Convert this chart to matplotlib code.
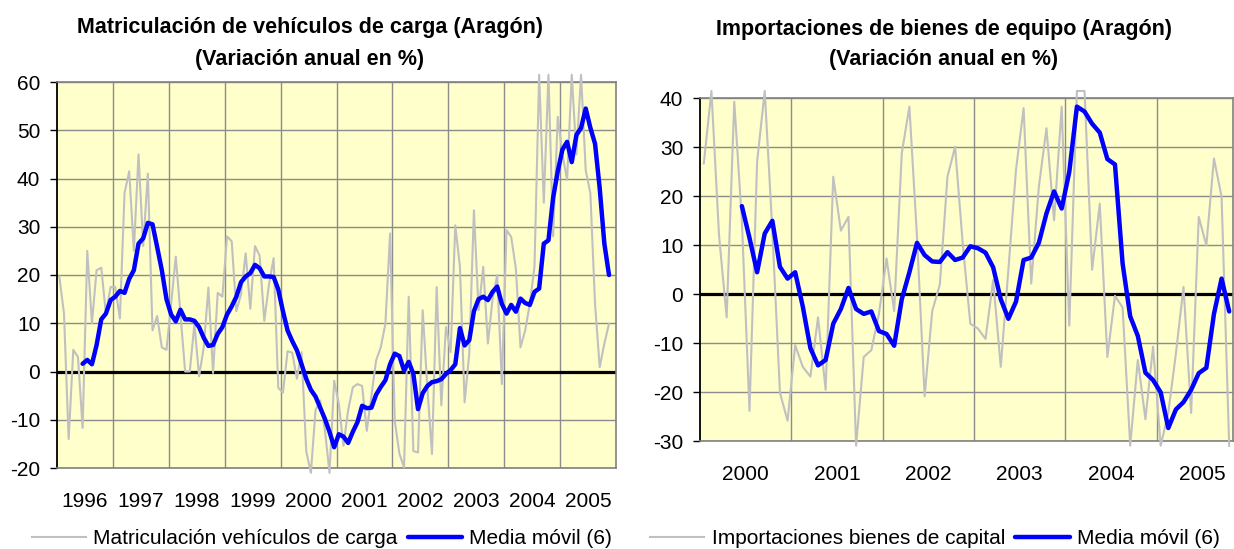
import numpy as np
import matplotlib.pyplot as plt

plt.rcParams['font.family'] = ['Liberation Sans', 'DejaVu Sans']
plt.rcParams['axes.unicode_minus'] = False

# Matriculación vehículos de carga, variación anual mensual (%)
carga_years = ['1996', '1997', '1998', '1999', '2000', '2001', '2002', '2003', '2004', '2005']
carga = [19.7, 12, -14, 4.5, 3.0, -11.7, 25.0, 10, 21, 21.5,
         12, 17.5, 17.5, 11, 37, 41.5, 25, 45, 26, 41,
         8.5, 11.5, 5, 4.5, 14, 23.8, 12, 0, 0, 9.8,
         -1, 5, 17.4, -0.3, 16.3, 15.5, 28, 27, 12.5, 16,
         24.5, 13, 26, 24, 10.5, 18, 23.5, -3.4, -4.4, 4.2,
         3.9, -1.5, 4, -16.5, -21, -8, -6, -12, -21, -1.9,
         -6.7, -15.4, -8, -3.3, -2.6, -3, -12.3, -5, 2.3, 5,
         9.9, 28.6, -10.2, -17, -19.9, 15.5, -16.5, -16.8, 12.7, -3.3,
         -17.1, 17.5, -7, 9.2, 4, 30.3, 21.7, -6.4, 3.7, 33.4,
         12.7, 21.7, 5.8, 15, 20, -2.6, 29.3, 27.9, 21.4, 5,
         8.5, 14, 21.7, 61.5, 35, 61.5, 28, 52.8, 45, 39.7,
         61.5, 45, 61.5, 41.7, 36.9, 14, 0.9, 5.8, 9.9]
# media movil (6), starts at the 6th month
carga_mm = [1.6, 2.4, 1.5, 5.5, 10.8, 12.0, 14.8, 15.5, 16.7, 16.3,
            19.2, 21.0, 26.5, 27.6, 30.8, 30.5, 25.8, 21.0, 15.0, 11.8,
            10.4, 12.8, 10.8, 10.8, 10.5, 9.2, 7.0, 5.3, 5.5, 7.8,
            9.2, 11.8, 13.5, 15.5, 18.5, 19.7, 20.4, 22.1, 21.4, 19.7,
            19.7, 19.6, 17.0, 12.5, 8.5, 6.3, 4.4, 1.5, -1.5, -3.8,
            -5.2, -7.5, -9.8, -12.5, -15.7, -13.0, -13.5, -14.8, -12.5, -10.5,
            -7.1, -7.6, -7.5, -4.8, -3.2, -1.8, 1.5, 3.7, 3.2, 0.2,
            2.0, -0.5, -7.8, -4.5, -3.0, -2.2, -2.0, -1.6, -0.5, 0.3,
            1.5, 9.0, 5.4, 6.5, 12.5, 15.0, 15.5, 14.8, 16.5, 17.6,
            14.0, 12.0, 13.8, 12.4, 15.1, 14.2, 13.8, 16.5, 17.2, 26.5,
            27.2, 36.0, 41.5, 46.0, 47.6, 43.4, 49.0, 50.5, 54.5, 50.5,
            47.2, 38.0, 26.5, 20.0]

# Importaciones bienes de capital
equipo_years = ['2000', '2001', '2002', '2003', '2004', '2005']
equipo = [26.7, 41.5, 12, -4.7, 39.3, 15, -23.8, 27, 41.5, 13,
          -20.1, -25.8, -10.4, -14.8, -16.8, -4.7, -19.5, 24, 13, 15.8,
          -30.9, -12.8, -11.4, -4, 7.3, -3.4, 28.8, 38.3, 11.7, -20.8,
          -3.4, 2, 24, 30.1, 10.4, -6, -7, -9.1, 2.9, -14.8,
          5, 25.4, 38, 2.2, 21.9, 33.9, 15.1, 38.3, -6.4, 41.5,
          41.5, 5, 18.5, -12.8, -0.3, -2.7, -30.9, -13.4, -25.5, -10.7,
          -30.9, -24.2, -12.1, 1.5, -24.2, 15.8, 10, 27.7, 19.9, -30.9]
equipo_mm = [18.0, 11.5, 4.5, 12.4, 15.0, 5.6, 3.2, 4.5, -2.5, -11.0,
             -14.5, -13.4, -6.0, -3.0, 1.3, -3.0, -4.0, -3.5, -7.5, -8.1,
             -10.5, -1.0, 4.5, 10.5, 8.0, 6.7, 6.6, 8.6, 7.0, 7.5,
             9.8, 9.4, 8.5, 5.5, -1.0, -5.0, -1.5, 7.0, 7.5, 10.5,
             16.5, 21.0, 17.5, 25.0, 38.3, 37.3, 34.8, 33.0, 27.6, 26.5,
             6.3, -4.5, -8.5, -16.0, -17.5, -20.0, -27.3, -23.5, -22.0, -19.5,
             -16.1, -15.0, -4.0, 3.2, -3.5]

W, H = 1234, 549
FS = 15


def draw_panel(ax, serie, media, years, n_cats, ylim, xpad):
    x = np.arange(len(serie)) + 0.5
    xm = np.arange(len(media)) + 5.5

    ax.set_facecolor('#FFFFCC')
    ax.set_xlim(0, n_cats)
    ax.set_ylim(*ylim)
    ax.set_yticks(range(ylim[0], ylim[1] + 1, 10))

    ax.set_xticks([12 * k + 6 for k in range(len(years))])
    ax.set_xticklabels(years)
    ax.set_xticks([12 * k for k in range(1, len(years))], minor=True)

    ax.grid(axis='y', color='#8c8c8c', lw=1)
    ax.grid(axis='x', which='minor', color='#8c8c8c', lw=1)
    ax.set_axisbelow(True)

    ax.axhline(0, color='black', lw=2.3, zorder=2)
    grey, = ax.plot(x, serie, color='#C0C0C0', lw=1.5, zorder=3, clip_on=False)
    blue, = ax.plot(xm, media, color='#0000FF', lw=3.2, zorder=4,
                    solid_joinstyle='round', solid_capstyle='round')

    for s in ['top', 'right', 'bottom']:
        ax.spines[s].set_color('#808080')
        ax.spines[s].set_linewidth(1.2)
    ax.spines['left'].set_color('black')
    ax.spines['left'].set_linewidth(1.3)

    ax.tick_params(axis='y', direction='out', length=5, width=1, labelsize=FS, pad=7)
    ax.tick_params(axis='x', which='both', length=0, labelsize=FS, pad=xpad)
    return grey, blue


def main():
    fig = plt.figure(figsize=(W / 100, H / 100), dpi=100)

    ax1 = fig.add_axes([57 / W, 1 - 468 / H, 559 / W, 386 / H])
    g1, b1 = draw_panel(ax1, carga, carga_mm, carga_years, 120, (-20, 60), 17.5)

    ax2 = fig.add_axes([700 / W, 1 - 441.3 / H, 533 / W, 343 / H])
    g2, b2 = draw_panel(ax2, equipo, equipo_mm, equipo_years, 70, (-30, 40), 17)

    tfs = 15.5
    fig.text(310 / W, 1 - 33 / H, 'Matriculación de vehículos de carga (Aragón)',
             ha='center', va='baseline', fontsize=tfs, fontweight='bold')
    fig.text(310 / W, 1 - 65 / H, '(Variación anual en %)',
             ha='center', va='baseline', fontsize=tfs, fontweight='bold')
    fig.text(944 / W, 1 - 35 / H, 'Importaciones de bienes de equipo (Aragón)',
             ha='center', va='baseline', fontsize=tfs, fontweight='bold')
    fig.text(944 / W, 1 - 65 / H, '(Variación anual en %)',
             ha='center', va='baseline', fontsize=tfs, fontweight='bold')

    fig.legend([g1, b1], ['Matriculación vehículos de carga', 'Media móvil (6)'],
               loc='center', bbox_to_anchor=(322 / W, 1 - 539 / H), ncol=2,
               frameon=False, fontsize=FS, handlelength=2.6, handletextpad=0.35,
               columnspacing=0.5, borderpad=0, borderaxespad=0)
    fig.legend([g2, b2], ['Importaciones bienes de capital', 'Media móvil (6)'],
               loc='center', bbox_to_anchor=(935 / W, 1 - 539 / H), ncol=2,
               frameon=False, fontsize=FS, handlelength=2.6, handletextpad=0.35,
               columnspacing=0.5, borderpad=0, borderaxespad=0)

    fig.savefig('out.png', dpi=100)


if __name__ == "__main__":
    main()
